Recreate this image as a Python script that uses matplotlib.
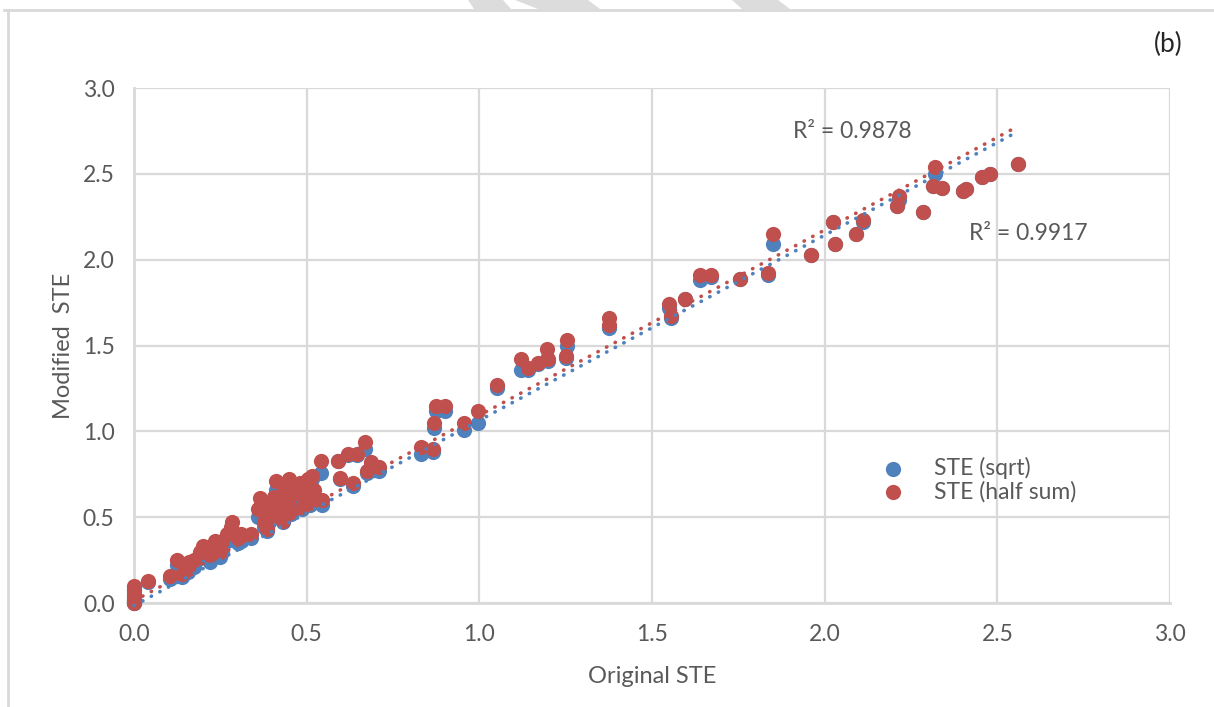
import numpy as np
import matplotlib.pyplot as plt
from matplotlib.lines import Line2D
from matplotlib.patches import Polygon

plt.rcParams['font.family'] = ['Lato', 'DejaVu Sans']

# original STE and the two modified estimates
ste_orig = [0.000, 0.000, 0.000, 0.000, 0.000, 0.000, 0.040, 0.105, 0.125, 0.140,
            0.155, 0.160, 0.175, 0.190, 0.200, 0.205, 0.220, 0.225, 0.235, 0.250,
            0.255, 0.270, 0.280, 0.285, 0.300, 0.310, 0.340, 0.360, 0.365, 0.370,
            0.375, 0.385, 0.390, 0.400, 0.405, 0.410, 0.420, 0.425, 0.430, 0.435,
            0.445, 0.450, 0.455, 0.460, 0.470, 0.480, 0.485, 0.490, 0.500, 0.505,
            0.510, 0.515, 0.520, 0.540, 0.545, 0.590, 0.595, 0.620, 0.635, 0.645,
            0.670, 0.675, 0.685, 0.710, 0.830, 0.865, 0.870, 0.875, 0.900, 0.955,
            0.995, 1.050, 1.120, 1.140, 1.170, 1.195, 1.200, 1.250, 1.255, 1.375,
            1.375, 1.550, 1.555, 1.595, 1.640, 1.670, 1.755, 1.835, 1.850, 1.960,
            2.025, 2.030, 2.090, 2.110, 2.210, 2.215, 2.285, 2.320, 2.315, 2.340,
            2.400, 2.410, 2.455, 2.480, 2.560]
ste_half = [0.10, 0.07, 0.04, 0.02, 0.00, 0.01, 0.13, 0.16, 0.25, 0.17,
            0.20, 0.24, 0.25, 0.30, 0.33, 0.30, 0.28, 0.33, 0.36, 0.30,
            0.36, 0.40, 0.44, 0.47, 0.38, 0.40, 0.40, 0.55, 0.61, 0.57,
            0.47, 0.43, 0.50, 0.58, 0.62, 0.71, 0.52, 0.56, 0.48, 0.66,
            0.60, 0.72, 0.53, 0.68, 0.64, 0.70, 0.56, 0.66, 0.62, 0.72,
            0.58, 0.74, 0.66, 0.83, 0.60, 0.83, 0.73, 0.87, 0.70, 0.87,
            0.94, 0.77, 0.82, 0.79, 0.91, 0.90, 1.05, 1.15, 1.15, 1.05,
            1.12, 1.27, 1.42, 1.37, 1.40, 1.48, 1.42, 1.44, 1.53, 1.66,
            1.62, 1.74, 1.67, 1.77, 1.91, 1.91, 1.89, 1.92, 2.15, 2.03,
            2.22, 2.09, 2.15, 2.23, 2.31, 2.37, 2.28, 2.54, 2.43, 2.42,
            2.40, 2.41, 2.48, 2.50, 2.56]
ste_sqrt = [0.08, 0.05, 0.03, 0.01, 0.00, 0.00, 0.12, 0.14, 0.22, 0.15,
            0.18, 0.21, 0.21, 0.26, 0.28, 0.27, 0.24, 0.30, 0.33, 0.27,
            0.30, 0.36, 0.40, 0.42, 0.35, 0.36, 0.38, 0.50, 0.56, 0.53,
            0.44, 0.42, 0.47, 0.55, 0.58, 0.66, 0.50, 0.53, 0.47, 0.62,
            0.58, 0.69, 0.52, 0.63, 0.60, 0.66, 0.55, 0.61, 0.58, 0.68,
            0.57, 0.72, 0.62, 0.76, 0.57, 0.83, 0.72, 0.86, 0.68, 0.86,
            0.90, 0.76, 0.80, 0.77, 0.87, 0.88, 1.02, 1.12, 1.12, 1.01,
            1.05, 1.25, 1.36, 1.36, 1.39, 1.42, 1.41, 1.43, 1.50, 1.60,
            1.61, 1.72, 1.66, 1.77, 1.88, 1.90, 1.89, 1.91, 2.09, 2.03,
            2.22, 2.09, 2.15, 2.22, 2.31, 2.35, 2.28, 2.50, 2.43, 2.42,
            2.40, 2.41, 2.48, 2.50, 2.56]

# linear trend lines (sqrt, half sum) and their R² values
trend_slope = [1.079, 1.080]
trend_intercept = [-0.015, 0.013]
r2_sqrt = 0.9878
r2_half = 0.9917

BLUE = '#4F81BD'
RED = '#C0504D'
GREY = '#595959'
GRID = '#D9D9D9'

x = np.array(ste_orig)
ys = np.array(ste_sqrt)
yh = np.array(ste_half)

fig = plt.figure(figsize=(12.14, 7.07), dpi=100)
ax = fig.add_axes([0.1104, 0.1471, 0.8534, 0.7284])

ax.scatter(x, ys, s=120, color=BLUE, zorder=3, clip_on=False, linewidths=0, label='STE (sqrt)')
ax.scatter(x, yh, s=120, color=RED, zorder=4, clip_on=False, linewidths=0, label='STE (half sum)')

# trend lines span the data range
xt = np.array([x.min(), x.max()])
for k, b, c in zip(trend_slope, trend_intercept, [BLUE, RED]):
    ax.plot(xt, k * xt + b, color=c, lw=2.6, linestyle=(0, (0.1, 2.6)),
            dash_capstyle='round', zorder=5, clip_on=False)

ax.set_xlim(0, 3)
ax.set_ylim(0, 3)
ax.set_xticks(np.arange(0, 3.01, 0.5))
ax.set_yticks(np.arange(0, 3.01, 0.5))
ax.xaxis.set_major_formatter(lambda v, p: '{:.1f}'.format(v))
ax.yaxis.set_major_formatter(lambda v, p: '{:.1f}'.format(v))
ax.tick_params(axis='x', length=0, labelsize=16.5, labelcolor=GREY, pad=15)
ax.tick_params(axis='y', length=0, labelsize=16.5, labelcolor=GREY, pad=14)
ax.grid(True, color=GRID, lw=1.6)
ax.set_axisbelow(True)
for side in ['top', 'right']:
    ax.spines[side].set_visible(False)
for side in ['left', 'bottom']:
    ax.spines[side].set_color(GRID)
    ax.spines[side].set_linewidth(2)

ax.set_xlabel('Original STE', fontsize=17, color=GREY, labelpad=15)
ax.set_ylabel('Modified  STE', fontsize=17, color=GREY, labelpad=6)

ax.text(2.08, 2.745, 'R² = {:.4f}'.format(r2_sqrt), fontsize=16.5, color=GREY, ha='center', va='center')
ax.text(2.59, 2.15, 'R² = {:.4f}'.format(r2_half), fontsize=16.5, color=GREY, ha='center', va='center')

ax.legend(loc='center left', bbox_to_anchor=(0.702, 0.24), frameon=False, fontsize=16.5,
          labelcolor=GREY, handletextpad=0.75, borderaxespad=0, labelspacing=0.1, scatterpoints=1)

fig.text(0.962, 0.937, '(b)', fontsize=19, color='#262626', ha='center', va='center')

# outer frame lines and the faint marks above it
fig.add_artist(Line2D([0.003, 1.0], [0.986, 0.986], color=GRID, lw=2))
fig.add_artist(Line2D([0.0066, 0.0066], [0.0, 0.986], color=GRID, lw=2))
for poly in [[(468, 0), (503, 0), (511, 9), (474, 9)],
             [(515, 0), (588, 0), (600, 9), (538, 9)],
             [(732, 0), (778, 0), (790, 9), (742, 9)]]:
    pts = [(px / 1214, 1 - py / 707) for px, py in poly]
    fig.add_artist(Polygon(pts, closed=True, color='#DCDCDC', lw=0))

fig.savefig('out.png', dpi=100)
